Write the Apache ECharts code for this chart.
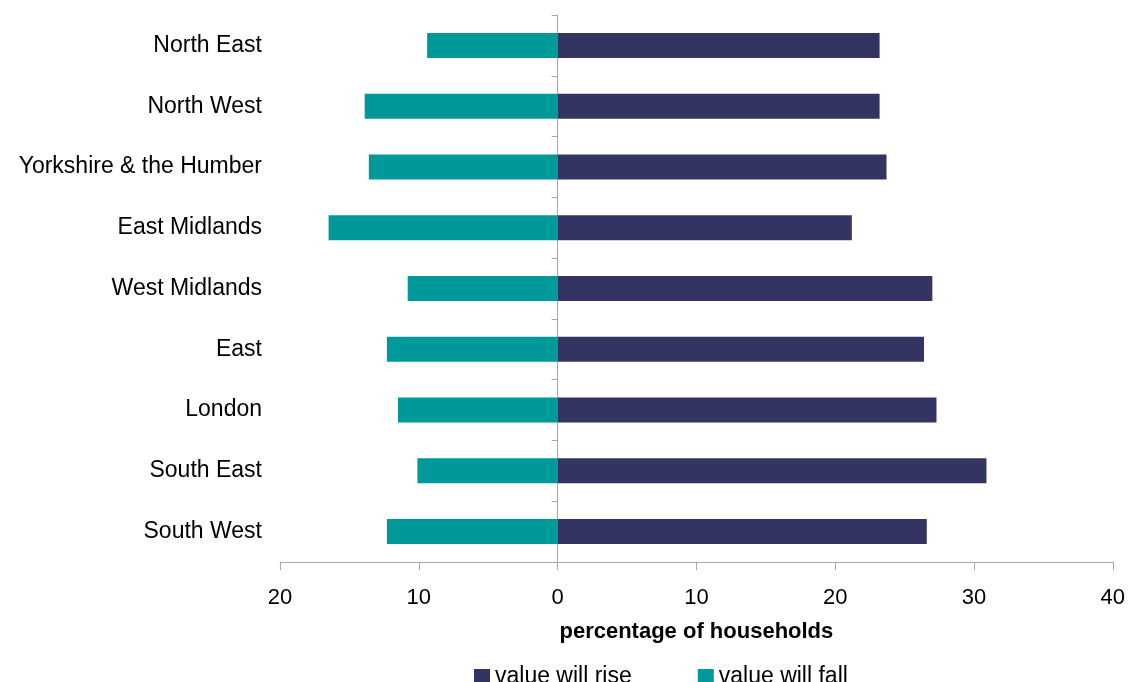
<!DOCTYPE html>
<html>
<head>
<meta charset="utf-8">
<script src="https://cdn.jsdelivr.net/npm/echarts@6/dist/echarts.min.js"></script>
<style>
  html, body { margin: 0; padding: 0; background: #ffffff; }
  #chart { width: 1128px; height: 682px; }
</style>
</head>
<body>
<div id="chart"></div>
<script>
// Regions of England, top to bottom
const regions = [
  'North East', 'North West', 'Yorkshire & the Humber', 'East Midlands',
  'West Midlands', 'East', 'London', 'South East', 'South West'
];
// Share of households expecting the value to rise (%)
const valueRise = [23.2, 23.2, 23.7, 21.2, 27.0, 26.4, 27.3, 30.9, 26.6];
// Share of households expecting the value to fall (%), drawn to the left of zero
const valueFall = [9.4, 13.9, 13.6, 16.5, 10.8, 12.3, 11.5, 10.1, 12.3];
// Value axis range and step
const axisMin = -20, axisMax = 40, axisStep = 10;

const FONT = '"Liberation Sans", Arial, sans-serif';
const AXIS_GREY = '#a6a6a6';

const chart = echarts.init(document.getElementById('chart'), null, { renderer: 'canvas' });

chart.setOption({
  animation: false,
  backgroundColor: '#ffffff',
  textStyle: { fontFamily: FONT },
  grid: { left: 280, right: 13, top: 15, bottom: 120, containLabel: false },
  legend: {
    data: ['value will rise', 'value will fall'],
    left: 469,
    top: 660,
    icon: 'rect',
    itemWidth: 16,
    itemHeight: 15,
    itemGap: 66,
    textStyle: { fontSize: 23, color: '#000000', fontFamily: FONT }
  },
  xAxis: {
    type: 'value',
    min: axisMin,
    max: axisMax,
    interval: axisStep,
    name: 'percentage of households',
    nameLocation: 'middle',
    nameGap: 59,
    nameTextStyle: { fontSize: 22, fontWeight: 'bold', color: '#000000', fontFamily: FONT },
    axisLine: { show: true, onZero: false, lineStyle: { color: AXIS_GREY, width: 1 } },
    axisTick: { show: true, length: 8, lineStyle: { color: AXIS_GREY } },
    axisLabel: {
      fontSize: 22, color: '#000000', margin: 25, fontFamily: FONT,
      formatter: v => String(Math.abs(v))
    },
    splitLine: { show: false }
  },
  yAxis: [
    {
      // category names at the left edge of the plot
      type: 'category',
      inverse: true,
      data: regions,
      position: 'left',
      axisLine: { show: false, onZero: false },
      axisTick: { show: false },
      axisLabel: { fontSize: 23, color: '#000000', margin: 18, fontFamily: FONT },
      splitLine: { show: false }
    },
    {
      // centre line at zero with band ticks
      type: 'category',
      inverse: true,
      data: regions,
      position: 'left',
      axisLine: { show: true, onZero: true, lineStyle: { color: AXIS_GREY, width: 1 } },
      axisTick: { show: true, length: 6, lineStyle: { color: AXIS_GREY } },
      axisLabel: { show: false },
      splitLine: { show: false }
    }
  ],
  series: [
    {
      name: 'value will rise',
      type: 'bar',
      stack: 'total',
      yAxisIndex: 0,
      barWidth: 25,
      itemStyle: { color: '#343463' },
      data: valueRise
    },
    {
      name: 'value will fall',
      type: 'bar',
      stack: 'total',
      yAxisIndex: 0,
      barWidth: 25,
      itemStyle: { color: '#009999' },
      data: valueFall.map(v => -v)
    }
  ]
});
</script>
</body>
</html>
